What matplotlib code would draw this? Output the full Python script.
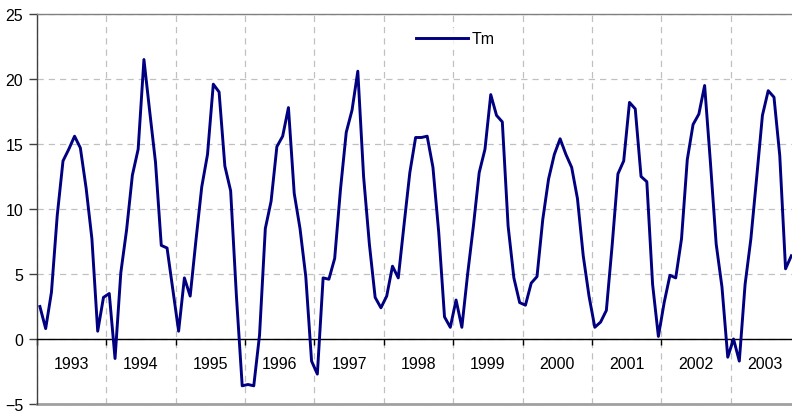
import matplotlib
matplotlib.use("Agg")
from matplotlib import pyplot as plt
from matplotlib.ticker import FixedLocator, NullFormatter, FixedFormatter
import numpy as np

plt.rcParams['font.family'] = ['Liberation Sans', 'DejaVu Sans']

# monthly mean temperature, Jan 1993 .. Nov 2003
tm_1993 = [2.5, 0.8, 3.6, 9.5, 13.7, 14.6, 15.6, 14.7, 11.6, 7.7, 0.6, 3.2]
tm_1994 = [3.5, -1.5, 5.1, 8.4, 12.6, 14.6, 21.5, 17.5, 13.6, 7.2, 7.0, 3.8]
tm_1995 = [0.6, 4.7, 3.3, 7.6, 11.7, 14.2, 19.6, 19.0, 13.3, 11.4, 3.3, -3.6]
tm_1996 = [-3.5, -3.6, 0.3, 8.5, 10.6, 14.8, 15.6, 17.8, 11.2, 8.5, 4.8, -1.7]
tm_1997 = [-2.7, 4.7, 4.6, 6.2, 11.5, 15.9, 17.6, 20.6, 12.5, 7.3, 3.2, 2.4]
tm_1998 = [3.3, 5.6, 4.7, 8.8, 12.8, 15.5, 15.5, 15.6, 13.2, 8.2, 1.7, 0.9]
tm_1999 = [3.0, 0.9, 5.0, 8.7, 12.8, 14.6, 18.8, 17.2, 16.7, 8.7, 4.7, 2.8]
tm_2000 = [2.6, 4.3, 4.8, 9.2, 12.3, 14.2, 15.4, 14.2, 13.2, 10.8, 6.4, 3.3]
tm_2001 = [0.9, 1.3, 2.2, 7.2, 12.7, 13.7, 18.2, 17.7, 12.5, 12.1, 4.2, 0.2]
tm_2002 = [2.8, 4.9, 4.7, 7.7, 13.8, 16.5, 17.3, 19.5, 13.6, 7.3, 4.0, -1.4]
tm_2003 = [0.0, -1.7, 4.2, 7.7, 12.4, 17.2, 19.1, 18.6, 14.1, 5.4, 6.4]

years = ['1993', '1994', '1995', '1996', '1997', '1998',
         '1999', '2000', '2001', '2002', '2003']
y_ticks = [-5, 0, 5, 10, 15, 20, 25]

tm = (tm_1993 + tm_1994 + tm_1995 + tm_1996 + tm_1997 + tm_1998
      + tm_1999 + tm_2000 + tm_2001 + tm_2002 + tm_2003)
months = np.arange(len(tm))

fig = plt.figure(figsize=(7.92, 4.14), dpi=100)
ax = fig.add_axes([37 / 792, 9 / 414, 763 / 792, 390 / 414])

ax.plot(months, tm, color='#000080', lw=2.1, label='Tm', zorder=3)

n_cat = 12 * len(years)
ax.set_xlim(-0.5, n_cat - 0.5)
ax.set_ylim(-5, 25)

# year boundaries as major ticks, year names centred as minor tick labels
bounds = [12 * i - 0.5 for i in range(len(years) + 1)]
centers = [12 * i + 5.5 for i in range(len(years))]
ax.xaxis.set_major_locator(FixedLocator(bounds))
ax.xaxis.set_major_formatter(NullFormatter())
ax.xaxis.set_minor_locator(FixedLocator(centers))
ax.xaxis.set_minor_formatter(FixedFormatter(years))
ax.tick_params(axis='x', which='major', direction='out', length=4, width=1, color='black')
ax.tick_params(axis='x', which='minor', length=0, pad=12, labelsize=11.5)

ax.set_yticks(y_ticks)
ax.tick_params(axis='y', direction='out', length=6, width=1, color='#404040', labelsize=11.5, pad=4)

ax.spines['bottom'].set_position(('data', 0))
ax.spines['bottom'].set_color('black')
ax.spines['bottom'].set_linewidth(1)
ax.spines['left'].set_color('#404040')
ax.spines['left'].set_linewidth(1)
ax.spines['right'].set_visible(False)
ax.spines['top'].set_color('#808080')
ax.spines['top'].set_linewidth(1)
ax.axhline(-5, color='#a0a0a0', lw=2, clip_on=False, zorder=1)

ax.grid(True, axis='both', which='major', color='#c0c0c0', linestyle=(0, (5, 4)), lw=0.9)
ax.set_axisbelow(True)

leg = ax.legend(loc='center', bbox_to_anchor=(0.548, 0.936), frameon=True,
                handlelength=3.25, fontsize=11.5, handletextpad=0.2,
                borderpad=0.2, fancybox=False)
leg.get_frame().set_facecolor('white')
leg.get_frame().set_edgecolor('none')

fig.savefig('out.png', dpi=100)
